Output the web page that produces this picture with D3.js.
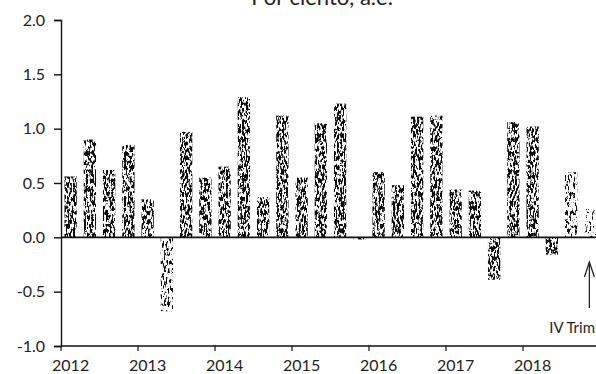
<!DOCTYPE html>
<html>
<head>
<meta charset="utf-8">
<script src="https://cdn.jsdelivr.net/npm/d3@7"></script>
<style>
  body { margin: 0; background: #fff; }
  svg { display: block; }
  text { font-family: Lato, "Open Sans", sans-serif; fill: #222; }
</style>
</head>
<body>
<svg width="596" height="374"></svg>
<script>
// quarterly data, 2012 Q1 .. 2018 Q4
var years = [2012, 2013, 2014, 2015, 2016, 2017, 2018];
var quarters = ["I", "II", "III", "IV"];
var values = [
    0.56, 0.90, 0.62, 0.85,
    0.35, -0.68, 0.97, 0.55,
    0.65, 1.29, 0.37, 1.12,
    0.55, 1.05, 1.23, -0.02,
    0.60, 0.48, 1.11, 1.12,
    0.44, 0.43, -0.39, 1.06,
    1.02, -0.16, 0.60, 0.26
];
var yTicks = [-1.0, -0.5, 0.0, 0.5, 1.0, 1.5, 2.0];

var svg = d3.select("svg"),
    margin = {top: 20, right: -4, bottom: 28, left: 61},
    width = +svg.attr("width") - margin.left - margin.right,
    height = +svg.attr("height") - margin.top - margin.bottom;

var labels = [];
years.forEach(function (y) {
    quarters.forEach(function (q) { labels.push(y + "-" + q); });
});

// scales
var x = d3.scaleBand()
    .domain(labels)
    .range([0, width])
    .paddingInner(0.36)
    .paddingOuter(0.18);

var y = d3.scaleLinear()
    .domain([-1, 2])
    .range([height, 0]);

// speckled fill, like the scanned halftone
var defs = svg.append("defs");
function speckle(id, cut, seed) {
    var f = defs.append("filter")
        .attr("id", id)
        .attr("x", 0).attr("y", 0).attr("width", 1).attr("height", 1);
    f.append("feTurbulence")
        .attr("type", "fractalNoise")
        .attr("baseFrequency", "0.55 0.22")
        .attr("numOctaves", 3)
        .attr("seed", seed)
        .attr("result", "noise");
    f.append("feColorMatrix")
        .attr("in", "noise")
        .attr("type", "matrix")
        .attr("values", "0 0 0 0 0  0 0 0 0 0  0 0 0 0 0  -12 0 0 0 " + cut)
        .attr("result", "mask");
    f.append("feComposite")
        .attr("in", "SourceGraphic")
        .attr("in2", "mask")
        .attr("operator", "in");
}
speckle("dense", 6.5, 4);
speckle("light", 5.6, 9);
speckle("faint", 4.8, 2);

var g = svg.append("g")
    .attr("transform", "translate(" + margin.left + "," + margin.top + ")");

// bars
g.selectAll(".bar")
    .data(values)
    .enter().append("rect")
    .attr("class", "bar")
    .attr("x", function (d, i) { return x(labels[i]); })
    .attr("width", x.bandwidth())
    .attr("y", function (d) { return y(Math.max(0, d)); })
    .attr("height", function (d) { return Math.abs(y(d) - y(0)); })
    .attr("fill", "#111")
    .attr("filter", function (d, i) {
        if (i == 27) return "url(#faint)";
        if (i == 5 || i == 26) return "url(#light)";
        return "url(#dense)";
    });

// zero line
g.append("line")
    .attr("x1", 0).attr("x2", width)
    .attr("y1", y(0)).attr("y2", y(0))
    .attr("stroke", "#111")
    .attr("stroke-width", 1.8);

// y axis
var yAxis = g.append("g")
    .call(d3.axisLeft(y)
        .tickValues(yTicks)
        .tickSize(7)
        .tickPadding(9)
        .tickFormat(d3.format(".1f")));
yAxis.select(".domain").attr("stroke", "#111").attr("stroke-width", 1.4);
yAxis.selectAll(".tick line").attr("stroke", "#111").attr("stroke-width", 1.4);
yAxis.selectAll("text")
    .style("font-size", "16px")
    .attr("fill", "#222")
    .text(function (d) { return d < 0 ? "-" + d3.format(".1f")(-d) : d3.format(".1f")(d); });

// x axis, ticks at each year start
var xAxis = g.append("g")
    .attr("transform", "translate(0," + height + ")");
xAxis.append("line")
    .attr("x1", 0).attr("x2", width)
    .attr("stroke", "#111")
    .attr("stroke-width", 1.4);
xAxis.selectAll(".ytick")
    .data(years)
    .enter().append("line")
    .attr("class", "ytick")
    .attr("x1", function (d) { return x(d + "-I") - (x.step() - x.bandwidth()) / 2; })
    .attr("x2", function (d) { return x(d + "-I") - (x.step() - x.bandwidth()) / 2; })
    .attr("y1", 0).attr("y2", 5)
    .attr("stroke", "#111")
    .attr("stroke-width", 1.2);
xAxis.selectAll(".ylab")
    .data(years)
    .enter().append("text")
    .attr("class", "ylab")
    .attr("x", function (d) { return x(d + "-I") + x.bandwidth() / 2; })
    .attr("y", 25)
    .attr("text-anchor", "middle")
    .style("font-size", "16px")
    .text(function (d) { return d; });

// title (cut off at the top, as in the scan)
svg.append("text")
    .attr("x", 322)
    .attr("y", 5)
    .attr("text-anchor", "middle")
    .style("font-size", "22px")
    .text("Por ciento, a.e.");

// last quarter marker
var last = labels[labels.length - 1];
var ax = margin.left + x(last) + x.bandwidth() / 2 - 1;
var arrow = svg.append("g")
    .attr("fill", "none")
    .attr("stroke", "#222")
    .attr("stroke-width", 1.3);
arrow.append("line")
    .attr("x1", ax).attr("x2", ax)
    .attr("y1", 308).attr("y2", 262);
arrow.append("path")
    .attr("d", "M" + (ax - 5) + ",277L" + ax + ",262L" + (ax + 5) + ",277");

svg.append("text")
    .attr("x", 595)
    .attr("y", 333)
    .attr("text-anchor", "end")
    .style("font-size", "15px")
    .text("IV Trim");
</script>
</body>
</html>
